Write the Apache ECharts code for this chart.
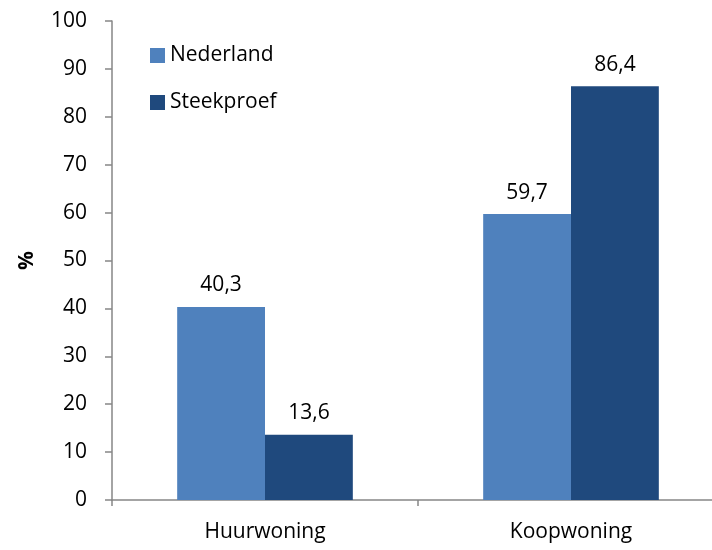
<!DOCTYPE html>
<html>
<head>
<meta charset="utf-8">
<title>Huur- en koopwoningen</title>
<script src="https://cdn.jsdelivr.net/npm/echarts@6/dist/echarts.min.js"></script>
<style>
  html, body { margin: 0; padding: 0; background: #fff; }
  #chart { width: 712px; height: 550px; }
</style>
</head>
<body>
<div id="chart"></div>
<script>
var categories = ["Huurwoning", "Koopwoning"];
var nederland = [40.3, 59.7];
var steekproef = [13.6, 86.4];
var yTicks = [0, 10, 20, 30, 40, 50, 60, 70, 80, 90, 100];

var font = "'Open Sans', 'Noto Sans', sans-serif";
var axisGray = "#868686";
var fs = 21;

function komma(p) {
  return p.value.toFixed(1).replace(".", ",");
}

var chart = echarts.init(document.getElementById("chart"));
chart.setOption({
  animation: false,
  textStyle: { fontFamily: font },
  // plot runs past the right edge, like the original
  grid: {
    left: 112, width: 612, top: 21, bottom: 50,
    containLabel: false, outerBoundsMode: "none"
  },
  legend: {
    orient: "vertical",
    left: 145,
    top: 40,
    itemWidth: 15,
    itemHeight: 15,
    itemGap: 26,
    icon: "rect",
    textStyle: { fontFamily: font, fontSize: fs, color: "#000" },
    data: ["Nederland", "Steekproef"]
  },
  xAxis: {
    type: "category",
    data: categories,
    axisLine: { lineStyle: { color: axisGray, width: 1.5 } },
    axisTick: { show: true, length: 6, lineStyle: { color: axisGray, width: 1.5 } },
    axisLabel: { fontSize: fs, color: "#000", margin: 22, fontFamily: font }
  },
  yAxis: {
    type: "value",
    min: yTicks[0],
    max: yTicks[yTicks.length - 1],
    interval: 10,
    name: "%",
    nameLocation: "middle",
    nameRotate: 90,
    nameGap: 74,
    nameTextStyle: { fontSize: fs, fontWeight: "bold", color: "#000", fontFamily: font },
    splitLine: { show: false },
    axisLine: { show: true, lineStyle: { color: axisGray, width: 1.5 } },
    axisTick: { show: true, length: 7, lineStyle: { color: axisGray, width: 1.5 } },
    axisLabel: { fontSize: fs, color: "#000", margin: 25, fontFamily: font }
  },
  series: [
    {
      name: "Nederland",
      type: "bar",
      data: nederland,
      barWidth: "28.7%",
      barGap: "0%",
      itemStyle: { color: "#4F81BD" },
      label: { show: true, position: "top", distance: 11, fontSize: fs, color: "#000", formatter: komma }
    },
    {
      name: "Steekproef",
      type: "bar",
      data: steekproef,
      barWidth: "28.7%",
      barGap: "0%",
      itemStyle: { color: "#1F497D" },
      label: { show: true, position: "top", distance: 11, fontSize: fs, color: "#000", formatter: komma }
    }
  ]
});
</script>
</body>
</html>
